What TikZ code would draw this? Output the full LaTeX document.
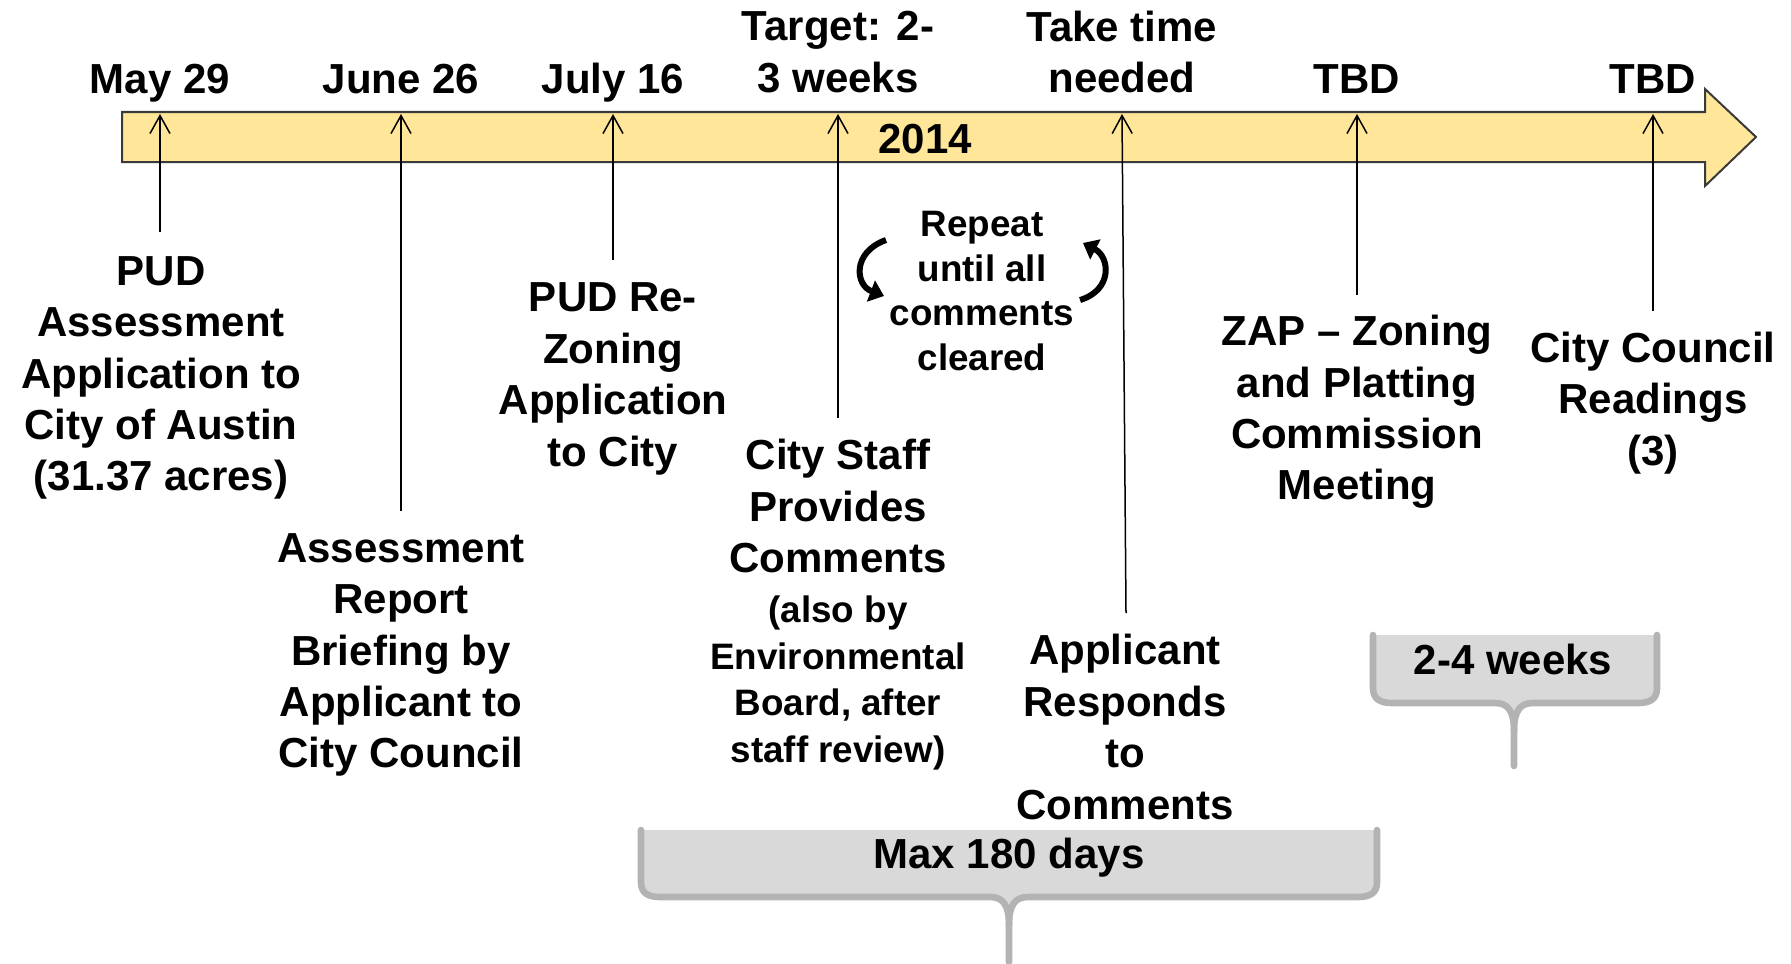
\documentclass[tikz,border=0pt]{standalone}
\usepackage{fontspec}
\setmainfont{Liberation Sans}
\usetikzlibrary{arrows.meta}
\definecolor{band}{HTML}{FFE699}
\definecolor{bandline}{HTML}{3A3A3A}
\definecolor{callfill}{HTML}{D9D9D9}
\definecolor{callline}{HTML}{B3B3B3}
\tikzset{
  lbl/.style={font=\fontsize{21}{25.7}\selectfont\bfseries, align=center, inner sep=0pt},
  smalllbl/.style={font=\fontsize{18.4}{23.2}\selectfont\bfseries, align=center, inner sep=0pt},
  datelbl/.style={lbl, anchor=base},
  tickarrow/.style={line width=0.75pt, -{Straight Barb[length=9pt,width=10pt,line width=0.75pt]}},
  looparrow/.style={line width=3pt, -{Triangle[length=7pt,width=11pt]}},
  braceline/.style={draw=callline, line width=3.3pt, line cap=round, line join=round},
}
\begin{document}
\begin{tikzpicture}[x=0.5pt,y=-0.5pt]
\useasboundingbox (0,0) rectangle (1791,963);
% timeline arrow
\draw[fill=band, draw=bandline, line width=1pt]
  (122,112) -- (1705,112) -- (1705,89) -- (1756,137) -- (1705,186) -- (1705,162) -- (122,162) -- cycle;
\node[lbl] (year) at (925,139) {2014};

% top labels
\node[datelbl] (d1) at (160,94) {May 29};
\node[datelbl] (d2) at (401,94) {June 26};
\node[datelbl] (d3) at (613,94) {July 16};
\node[lbl] (d4) at (838,52) {Target: 2-\\3 weeks};
\node[lbl] (d5) at (1122,52) {Take time\\needed};
\node[datelbl] (d6) at (1357,94) {TBD};
\node[datelbl] (d7) at (1653,94) {TBD};

% tick tips
\coordinate (t1) at (160,114);
\coordinate (t2) at (401,114);
\coordinate (t3) at (613,114);
\coordinate (t4) at (838,114);
\coordinate (t5) at (1122,114);
\coordinate (t6) at (1357,114);
\coordinate (t7) at (1653,114);
% tick ends
\coordinate (b1) at (160,232);
\coordinate (b2) at (401,511);
\coordinate (b3) at (613,260);
\coordinate (b4) at (838,418);
\coordinate (b5) at (1126,613);
\coordinate (b6) at (1357,295);
\coordinate (b7) at (1653,311);
\foreach \i in {1,...,7} \draw[tickarrow] (b\i) -- (t\i);

% bottom labels
\node[lbl] (e1) at (161,378) {PUD\\Assessment\\Application to\\City of Austin\\(31.37 acres)};
\node[lbl] (e2) at (401,655) {Assessment\\Report\\Briefing by\\Applicant to\\City Council};
\node[lbl] (e3) at (613,379) {PUD Re-\\Zoning\\Application\\to City};
\node[lbl] (e4) at (838,506) {City Staff\\Provides\\Comments};
\node[smalllbl] (e4b) at (838,683) {(also by\\Environmental\\Board, after\\staff review)};
\node[smalllbl, font=\fontsize{18.4}{22.3}\selectfont\bfseries] (rep) at (982,291) {Repeat\\until all\\comments\\cleared};
\node[lbl] (e5) at (1125,727) {Applicant\\Responds\\to\\Comments};
\node[lbl] (e6) at (1357,412) {ZAP -- Zoning\\and Platting\\Commission\\Meeting};
\node[lbl] (e7) at (1653,403) {City Council\\Readings\\(3)};

% repeat loop arrows
\coordinate (l1) at (886,240);
\coordinate (l2) at (884,296);
\coordinate (r1) at (1080,300);
\coordinate (r2) at (1083,243);
\draw[looparrow] (l1) .. controls (852,252) and (855,285) .. (l2);
\draw[looparrow] (r1) .. controls (1113,290) and (1110,257) .. (r2);

% callout: Max 180 days
\fill[callfill] (641,830) -- (641,882) .. controls (641,893) and (648,897) .. (660,897) -- (990,897)
  .. controls (1003,897) and (1009,905) .. (1009,925) .. controls (1009,905) and (1015,897) .. (1028,897)
  -- (1358,897) .. controls (1370,897) and (1377,893) .. (1377,882) -- (1377,830) -- cycle;
\draw[braceline] (641,830) -- (641,882) .. controls (641,893) and (648,897) .. (660,897) -- (990,897)
  .. controls (1003,897) and (1009,905) .. (1009,925) -- (1009,962);
\draw[braceline] (1377,830) -- (1377,882) .. controls (1377,893) and (1370,897) .. (1358,897) -- (1028,897)
  .. controls (1015,897) and (1009,905) .. (1009,925);
\node[lbl] (c1) at (1009,858) {Max 180 days};

% callout: 2-4 weeks
\fill[callfill] (1373,635) -- (1373,688) .. controls (1373,699) and (1380,703) .. (1392,703) -- (1495,703)
  .. controls (1508,703) and (1514,711) .. (1514,731) .. controls (1514,711) and (1520,703) .. (1533,703)
  -- (1638,703) .. controls (1650,703) and (1657,699) .. (1657,688) -- (1657,635) -- cycle;
\draw[braceline] (1373,635) -- (1373,688) .. controls (1373,699) and (1380,703) .. (1392,703) -- (1495,703)
  .. controls (1508,703) and (1514,711) .. (1514,731) -- (1514,766);
\draw[braceline] (1657,635) -- (1657,688) .. controls (1657,699) and (1650,703) .. (1638,703) -- (1533,703)
  .. controls (1520,703) and (1514,711) .. (1514,731);
\node[lbl] (c2) at (1513,659) {2-4 weeks};
\end{tikzpicture}
\end{document}
